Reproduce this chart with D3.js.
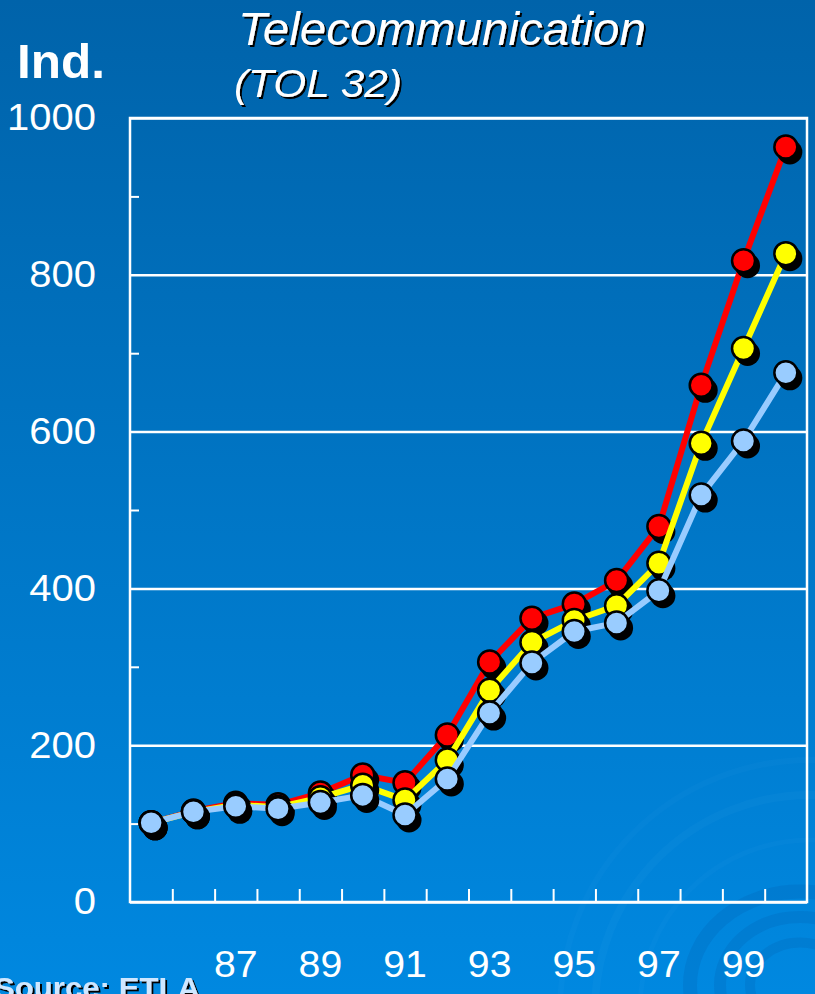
<!DOCTYPE html>
<html>
<head>
<meta charset="utf-8">
<script src="https://cdn.jsdelivr.net/npm/d3@7"></script>
<style>
  html, body { margin: 0; padding: 0; background: #0070c0; }
  svg { display: block; font-family: "Liberation Sans", Arial, sans-serif; }
</style>
</head>
<body>
<div id="chart-container"></div>
<script>
// Telecommunication (TOL 32) — index, 1985–2000
const years = ["1985","1986","1987","1988","1989","1990","1991","1992",
               "1993","1994","1995","1996","1997","1998","1999","2000"];
const redValues    = [101, 116, 126, 124, 139, 162, 152, 213, 306, 362, 380, 410, 479, 659, 818, 963];
const yellowValues = [101, 115, 124, 121, 133, 149, 130, 181, 270, 331, 359, 378, 432, 585, 706, 827];
const blueValues   = [101, 115, 122, 119, 127, 136, 111, 157, 241, 305, 345, 356, 397, 519, 588, 675];
const yTicks = [0, 200, 400, 600, 800, 1000];
const yMinorTicks = [100, 300, 500, 700, 900];
const xLabels = ["1987","1989","1991","1993","1995","1997","1999"];

const width = 815, height = 994;
const margin = {top: 118, right: 8, bottom: 92, left: 130};

const svg = d3.select("#chart-container")
  .append("svg")
  .attr("width", width)
  .attr("height", height);

const defs = svg.append("defs");
const bg = defs.append("linearGradient")
  .attr("id", "bg").attr("x1", 0).attr("y1", 0).attr("x2", 0).attr("y2", 1);
bg.append("stop").attr("offset", "0%").attr("stop-color", "#0063aa");
bg.append("stop").attr("offset", "100%").attr("stop-color", "#0088e0");

// text shadow
const ds = defs.append("filter").attr("id", "ds")
  .attr("x", "-10%").attr("y", "-10%").attr("width", "130%").attr("height", "140%");
ds.append("feDropShadow").attr("dx", 2).attr("dy", 2).attr("stdDeviation", 0.3)
  .attr("flood-color", "#000").attr("flood-opacity", 1);

svg.append("rect").attr("width", width).attr("height", height).attr("fill", "url(#bg)");

// faint swirl in the bottom right corner
const swirl = svg.append("g").attr("fill", "none");
[[250, 0.035, 6], [215, 0.045, 8], [170, 0.035, 5]].forEach(([r, o, w]) => {
  swirl.append("circle").attr("cx", 810).attr("cy", 1010).attr("r", r)
    .attr("stroke", `rgba(120,200,255,${o})`).attr("stroke-width", w);
});
[[110, 14], [80, 12], [50, 10]].forEach(([r, w]) => {
  swirl.append("ellipse").attr("cx", 800).attr("cy", 985).attr("rx", r).attr("ry", r * 0.85)
    .attr("stroke", "rgba(0,70,150,0.14)").attr("stroke-width", w);
});

const x = d3.scaleBand()
  .domain(years)
  .range([margin.left, width - margin.right])
  .padding(0);

const xIdx = d3.scaleLinear()
  .domain([0, years.length])
  .range([margin.left, width - margin.right]);

const y = d3.scaleLinear()
  .domain([0, 1000])
  .range([height - margin.bottom, margin.top]);

// stretch text a little wider, like the original slide
function widen(sel, k) {
  sel.each(function() {
    const w = this.getComputedTextLength();
    d3.select(this).attr("textLength", w * k).attr("lengthAdjust", "spacingAndGlyphs");
  });
}

// gridlines + labels
const yAxis = d3.axisLeft(y)
  .tickValues(yTicks)
  .tickSizeInner(-(width - margin.right - margin.left))
  .tickSizeOuter(0)
  .tickPadding(34)
  .tickFormat(d3.format("d"));

const gy = svg.append("g")
  .attr("transform", `translate(${margin.left},0)`)
  .call(yAxis);
gy.select(".domain").remove();
gy.selectAll("line").attr("stroke", "#fff").attr("stroke-width", 2.5);
gy.selectAll("text").attr("fill", "#fff").style("font-size", "37px").style("font-family", "inherit")
  .call(widen, 1.08);

const gyMinor = svg.append("g")
  .attr("transform", `translate(${margin.left},0)`)
  .call(d3.axisLeft(y).tickValues(yMinorTicks).tickSize(-9).tickFormat(""));
gyMinor.select(".domain").remove();
gyMinor.selectAll("line").attr("stroke", "#fff").attr("stroke-width", 2);

// bottom ticks between categories
const gx = svg.append("g")
  .attr("transform", `translate(0,${y(0)})`)
  .call(d3.axisBottom(xIdx).tickValues(d3.range(1, years.length)).tickSize(-13).tickFormat(""));
gx.select(".domain").remove();
gx.selectAll("line").attr("stroke", "#fff").attr("stroke-width", 2);

const gxLab = svg.append("g")
  .attr("transform", `translate(0,${y(0)})`)
  .call(d3.axisBottom(x).tickValues(xLabels).tickSize(0).tickPadding(49)
    .tickFormat(d => d.slice(2)));
gxLab.select(".domain").remove();
gxLab.selectAll("text").attr("fill", "#fff").style("font-size", "37px").style("font-family", "inherit")
  .call(widen, 1.06);

// plot frame
svg.append("rect")
  .attr("x", margin.left)
  .attr("y", y(1000))
  .attr("width", width - margin.right - margin.left)
  .attr("height", y(0) - y(1000))
  .attr("fill", "none")
  .attr("stroke", "#fff")
  .attr("stroke-width", 2.5);

// series
const series = [
  {name: "red", color: "#ff0000", values: redValues},
  {name: "yellow", color: "#ffff00", values: yellowValues},
  {name: "blue", color: "#99ccff", values: blueValues}
];

const line = d3.line()
  .x((d, i) => x(years[i]) + x.bandwidth() / 2)
  .y(d => y(d));

series.forEach(s => {
  const g = svg.append("g");
  g.append("path")
    .datum(s.values)
    .attr("d", line)
    .attr("fill", "none")
    .attr("stroke", s.color)
    .attr("stroke-width", 6)
    .attr("stroke-linejoin", "round");

  g.selectAll(".shadow")
    .data(s.values)
    .join("circle")
      .attr("class", "shadow")
      .attr("cx", (d, i) => x(years[i]) + x.bandwidth() / 2 + 4)
      .attr("cy", d => y(d) + 5)
      .attr("r", 12.5)
      .attr("fill", "#000");

  g.selectAll(".dot")
    .data(s.values)
    .join("circle")
      .attr("class", "dot")
      .attr("cx", (d, i) => x(years[i]) + x.bandwidth() / 2)
      .attr("cy", d => y(d))
      .attr("r", 11.5)
      .attr("fill", s.color)
      .attr("stroke", "#000")
      .attr("stroke-width", 2.5);
});

// titles
function addText(txt, xp, yp, size, style, weight, fill, len, shadow) {
  svg.append("text").attr("x", xp).attr("y", yp)
    .style("font-size", size + "px").style("font-style", style).style("font-weight", weight)
    .attr("fill", fill)
    .attr("textLength", len).attr("lengthAdjust", "spacingAndGlyphs")
    .attr("filter", shadow ? "url(#ds)" : null)
    .text(txt);
}

addText("Telecommunication", 238, 45, 46, "italic", "normal", "#fff", 408, true);
addText("(TOL 32)", 234, 97, 38, "italic", "normal", "#fff", 168, true);
addText("Ind.", 17, 78, 48, "normal", "bold", "#fff", 88, false);
addText("Source: ETLA", -6, 998, 30, "normal", "bold", "#cfe7ff", 206, true);
</script>
</body>
</html>
